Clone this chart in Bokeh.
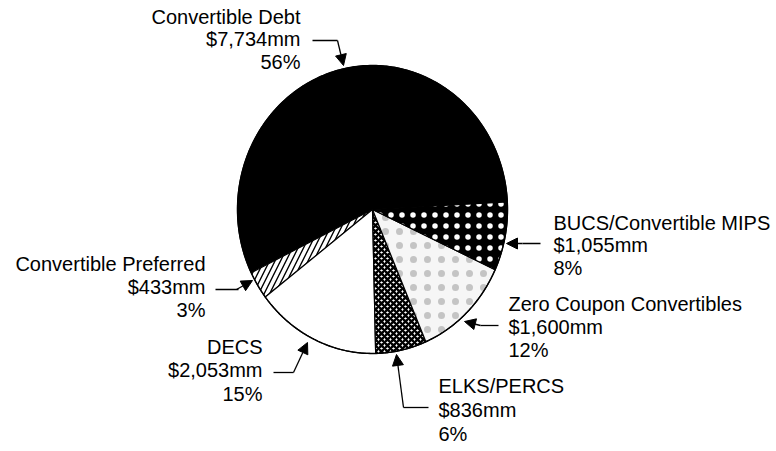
import numpy as np
from bokeh.plotting import figure
from bokeh.models import Range1d, Arrow, NormalHead, ColumnDataSource
from bokeh.core.properties import value
from bokeh.embed import file_html
from bokeh.resources import INLINE

# ---- data ----
categories = ["Convertible Debt", "Convertible Preferred", "DECS", "ELKS/PERCS",
              "Zero Coupon Convertibles", "BUCS/Convertible MIPS"]
amounts_mm = [7734, 433, 2053, 836, 1600, 1055]
pct_labels = ["56%", "3%", "15%", "6%", "12%", "8%"]

# ---- styles (per slice, same order) ----
fills = ["black", "white", "white", "white", "#f6f6f6", "black"]
hatch_patterns = [None, "right_diagonal_line", None, "diagonal_cross", "dot", "dot"]
hatch_colors = ["black", "black", "black", "black", "#c4c4c4", "white"]
hatch_scales = [12, 11, 12, 6, 14, 11]
hatch_weights = [1, 1.4, 1, 2.4, 3.2, 2.4]

# ---- layout (image pixel coordinates) ----
W, H = 772, 447
cx, cy, rx, ry = 372, 209, 135, 144
start_deg = 3.0  # debt starts here and slices run counter-clockwise

p = figure(width=W, height=H, output_backend="svg", toolbar_location=None,
           x_range=Range1d(0, W), y_range=Range1d(H, 0),
           min_border=0, outline_line_color=None, background_fill_color="white",
           border_fill_color="white")
p.axis.visible = False
p.xgrid.visible = False
p.ygrid.visible = False

total = float(sum(amounts_mm))
angles = np.cumsum([0] + [v / total * 360 for v in amounts_mm])
for i, v in enumerate(amounts_mm):
    a0 = np.radians(start_deg + angles[i])
    a1 = np.radians(start_deg + angles[i + 1])
    t = np.linspace(a0, a1, 200)
    xs = [cx] + list(cx + rx * np.cos(t)) + [cx]
    ys = [cy] + list(cy - ry * np.sin(t)) + [cy]
    kw = dict(fill_color=fills[i], line_color="black", line_width=1.2)
    if hatch_patterns[i]:
        kw.update(hatch_pattern=hatch_patterns[i], hatch_color=hatch_colors[i],
                  hatch_scale=hatch_scales[i], hatch_weight=hatch_weights[i])
    p.patch(xs, ys, **kw)

# outline
t = np.linspace(0, 2 * np.pi, 400)
p.line(cx + rx * np.cos(t), cy - ry * np.sin(t), line_color="black", line_width=1.4)

# labels: x anchor, align, first line y, line step
label_pos = {
    "Convertible Debt": (300, "right", 16, 22.5),
    "Convertible Preferred": (205, "right", 263, 23),
    "DECS": (262, "right", 346, 23.5),
    "ELKS/PERCS": (438, "left", 385, 24),
    "Zero Coupon Convertibles": (508, "left", 303, 23),
    "BUCS/Convertible MIPS": (553, "left", 222, 22.5),
}
for name, amt, pct in zip(categories, amounts_mm, pct_labels):
    x, al, y0, dy = label_pos[name]
    lines = [name, f"${amt:,}mm", pct]
    src = ColumnDataSource(dict(x=[x] * 3, y=[y0 + k * dy for k in range(3)], t=lines))
    p.text("x", "y", text="t", source=src, text_align=al, text_baseline="middle",
           text_font=value("Liberation Sans"), text_font_size="20px", text_color="black")

# leader lines (polyline before arrowhead) and arrow segments
leaders = {
    "Convertible Debt": ([312, 337], [40, 40], (337, 40, 343, 65)),
    "BUCS/Convertible MIPS": ([540, 522], [243, 243], (522, 243, 506, 243)),
    "Zero Coupon Convertibles": ([498, 480], [325, 325], (480, 325, 464, 321)),
    "ELKS/PERCS": ([428, 403], [407, 407], (403, 407, 396, 354)),
    "Convertible Preferred": ([215, 238], [289, 289], (236, 289, 252, 280)),
    "DECS": ([273, 293], [372, 372], (293, 372, 307, 342)),
}
for name in categories:
    lx, ly, (x0, y0, x1, y1) = leaders[name]
    p.line(lx, ly, line_color="black", line_width=1.3)
    p.add_layout(Arrow(end=NormalHead(size=11, fill_color="black", line_color="black", line_width=1),
                       x_start=x0, y_start=y0, x_end=x1, y_end=y1,
                       line_color="black", line_width=1.3))

open("out.html", "w").write(file_html(p, INLINE))
